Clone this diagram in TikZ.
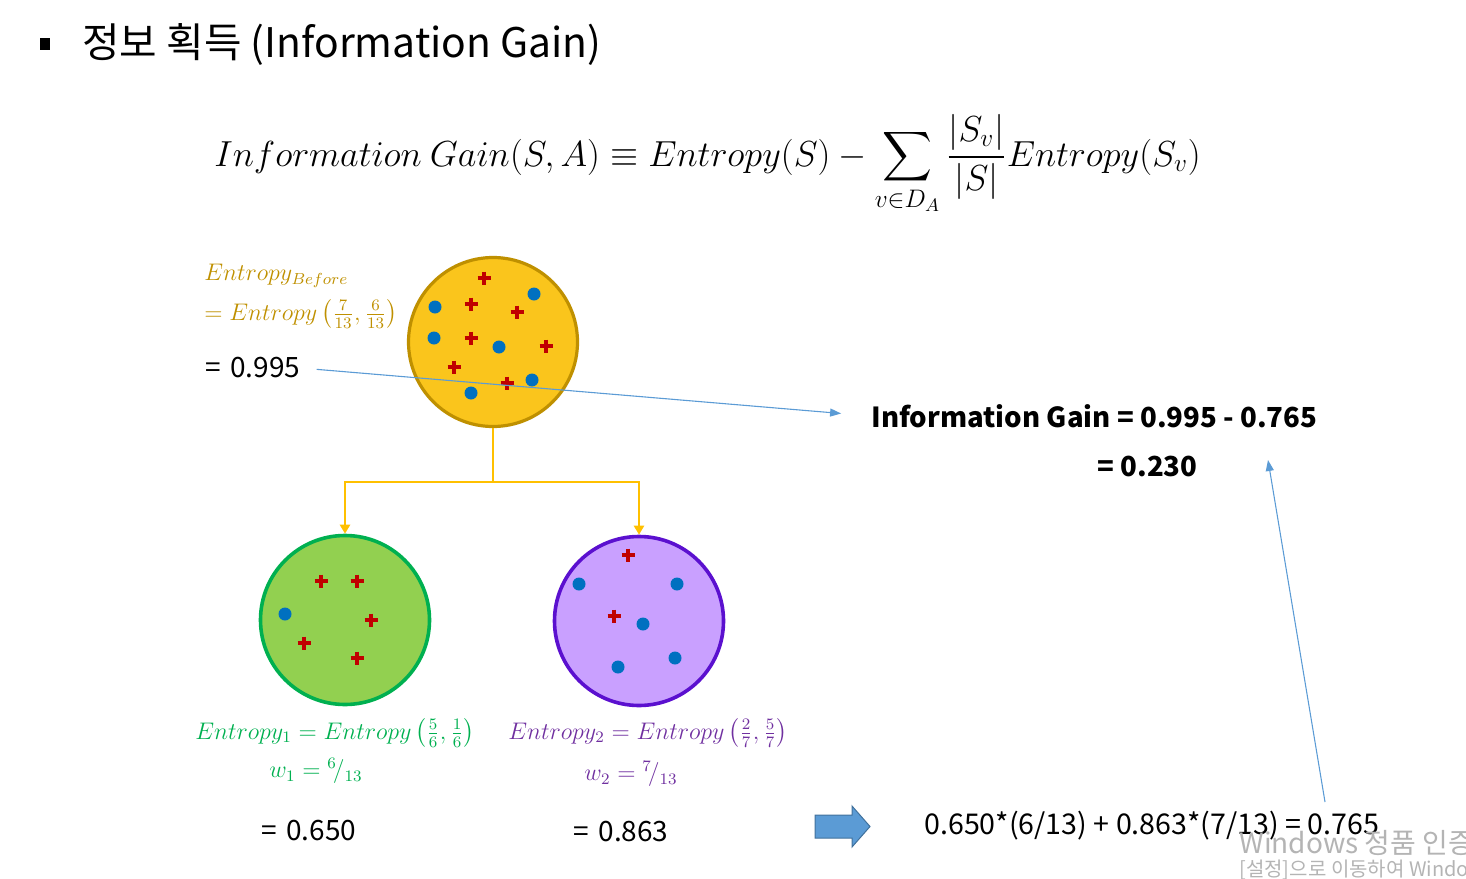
\RequirePackage{fix-cm}
\documentclass[tikz,border=0pt]{standalone}
\usepackage{amsmath}
\usepackage{fontspec}
\setmainfont{Noto Sans CJK KR}
\usetikzlibrary{arrows.meta}
\definecolor{rootfill}{HTML}{FAC51C}
\definecolor{rootline}{HTML}{BF9000}
\definecolor{branchline}{HTML}{FFC000}
\definecolor{leftfill}{HTML}{92D050}
\definecolor{leftline}{HTML}{00B050}
\definecolor{rightfill}{HTML}{C9A0FF}
\definecolor{rightline}{HTML}{5B10CF}
\definecolor{righttext}{HTML}{7030A0}
\definecolor{pointer}{HTML}{5B9BD5}
\definecolor{pointerline}{HTML}{41719C}
\definecolor{plusred}{HTML}{C00000}
\definecolor{dotblue}{HTML}{0070C0}
\definecolor{mark}{HTML}{B4B4B4}
\tikzset{
  set/.style={circle,line width=1.6pt,minimum size=84.5pt,inner sep=0pt},
  branch/.style={branchline,line width=1.25pt,-{Triangle[length=4.5pt,width=5pt]}},
  pointerarrow/.style={pointer,line width=0.55pt,-{Triangle[length=5.5pt,width=4pt]}},
  txt/.style={font=\fontsize{14}{17}\selectfont,inner sep=0pt},
  mathtxt/.style={font=\fontsize{12}{15}\selectfont,inner sep=0pt},
  redplus/.pic={\draw[plusred,line width=1.7pt] (-6.5,0) -- (6.5,0) (0,-6.5) -- (0,6.5);}
}
\begin{document}
\begin{tikzpicture}[x=0.5pt,y=-0.5pt]
\useasboundingbox (0,0) rectangle (1466,878);
% title
\fill (40,38) rectangle (50,50);
\node[anchor=west,inner sep=0pt,font=\fontsize{20.4}{24}\selectfont] (title) at (82,45) {정보 획득 (Information Gain)};
\node[anchor=base west,inner sep=0pt,font=\fontsize{18.1}{22}\selectfont] (formula) at (214,166)
  {$\displaystyle Information\ Gain(S,A)\equiv Entropy(S)-\sum_{v\in D_A}\frac{|S_v|}{|S|}Entropy(S_v)$};
% sets
\node[set,draw=rootline,fill=rootfill] (root) at (493,342) {};
\node[set,draw=leftline,fill=leftfill,line width=1.8pt] (left) at (345,620) {};
\node[set,draw=rightline,fill=rightfill,line width=1.8pt] (right) at (639,621) {};
\draw[branch] (root.south) -- ++(0,54) -| (left.north);
\draw[branch] (root.south) ++(0,54) -| (right.north);
% points of the root set
\pic at (484,278) {redplus};
\pic at (471,304) {redplus};
\pic at (517,312) {redplus};
\pic at (471,338) {redplus};
\pic at (546,346) {redplus};
\pic at (454,367) {redplus};
\pic at (507,383) {redplus};
\fill[dotblue] (534,294) circle (6.5);
\fill[dotblue] (435,307) circle (6.5);
\fill[dotblue] (434,338) circle (6.5);
\fill[dotblue] (499,347) circle (6.5);
\fill[dotblue] (532,380) circle (6.5);
\fill[dotblue] (471,393) circle (6.5);
% points of the left set
\pic at (321,581) {redplus};
\pic at (357,581) {redplus};
\pic at (371,620) {redplus};
\pic at (304,643) {redplus};
\pic at (357,658) {redplus};
\fill[dotblue] (285,614) circle (6.5);
% points of the right set
\pic at (628,555) {redplus};
\pic at (614,616) {redplus};
\fill[dotblue] (579,584) circle (6.5);
\fill[dotblue] (677,584) circle (6.5);
\fill[dotblue] (643,624) circle (6.5);
\fill[dotblue] (618,667) circle (6.5);
\fill[dotblue] (675,658) circle (6.5);
% labels
\node[mathtxt,anchor=west,text=rootline] (hbefore) at (204,276) {$Entropy_{Before}$};
\node[mathtxt,anchor=west,text=rootline] (hbeforeval) at (204,314) {$=Entropy\left(\frac{7}{13},\frac{6}{13}\right)$};
\node[txt,anchor=west] (before) at (205,368) {=\,\,0.995};
\node[mathtxt,text=leftline] (hleft) at (335,733) {$Entropy_1=Entropy\left(\frac{5}{6},\frac{1}{6}\right)$};
\node[mathtxt,text=leftline] (wleft) at (316,771) {$w_1={}^{6}\!/_{13}$};
\node[mathtxt,text=righttext] (hright) at (648,733) {$Entropy_2=Entropy\left(\frac{2}{7},\frac{5}{7}\right)$};
\node[mathtxt,text=righttext] (wright) at (631,774) {$w_2={}^{7}\!/_{13}$};
\node[txt] (vleft) at (309,831) {=\,\,0.650};
\node[txt] (vright) at (621,832) {=\,\,0.863};
% result
\node[txt,anchor=west,font=\fontsize{13.8}{17}\selectfont\bfseries] (gain) at (871,416) {Information Gain = 0.995 - 0.765};
\node[txt,anchor=west,font=\fontsize{13.8}{17}\selectfont\bfseries] (gainval) at (1097,466) {= 0.230};
\fill[pointer,draw=pointerline,line width=0.5pt] (815,815) -- (852,815) -- (852,806) -- (870,826.5) -- (852,847) -- (852,838) -- (815,838) -- cycle;
\node[txt,anchor=west,font=\fontsize{14.3}{17}\selectfont] (weighted) at (924,826) {0.650*(6/13) + 0.863*(7/13) = 0.765};
\coordinate (fromsum) at (1325,802);
\coordinate (togain) at (1268,460);
\draw[pointerarrow,shorten <=8pt,shorten >=15pt] (before.east) -- (gain.west);
\draw[pointerarrow] (fromsum) -- (togain);
% watermark
\node[anchor=west,inner sep=0pt,text=mark,font=\fontsize{14}{17}\selectfont] (mark1) at (1239,843) {Windows 정품 인증};
\node[anchor=west,inner sep=0pt,text=mark,font=\fontsize{10}{12}\selectfont] (mark2) at (1239,870) {[설정]으로 이동하여 Windows를 정품 인증합니다.};
\end{tikzpicture}
\end{document}
